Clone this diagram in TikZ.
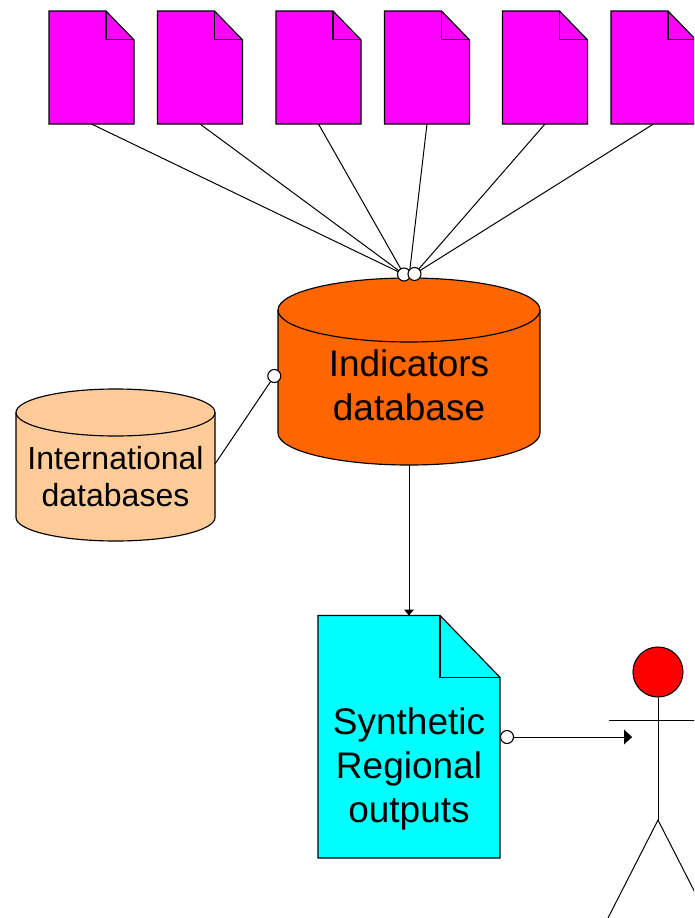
\documentclass[tikz,border=0pt]{standalone}
\usepackage{fontspec}
\setmainfont{Liberation Sans}
\newcommand{\docshape}[7]{% name, x1, y1, x2, y2, fold x, fold y
  \draw[docline,fill=#7] (#2,#3) -- (#4-#6,#3) -- (#4,#3+#6+#6*0.03) -- (#4,#5) -- (#2,#5) -- cycle;
  \draw[docline] (#4-#6,#3) -- (#4-#6,#3+#6+#6*0.03) -- (#4,#3+#6+#6*0.03);
  \node[anchor=north west,minimum width=#4pt-#2pt,minimum height=#5pt-#3pt,inner sep=0pt,outer sep=0pt] (#1) at (#2,#3) {};
}
\newcommand{\cyl}[7]{% name, x1, ytop, x2, ybottom, ry, colour
  \draw[docline,fill=#7] (#2,#3+#6) -- (#2,#5-#6) arc[start angle=180,end angle=360,x radius=(#4-#2)/2,y radius=-#6] -- (#4,#3+#6) arc[start angle=0,end angle=180,x radius=(#4-#2)/2,y radius=-#6] -- cycle;
  \draw[docline] (#2,#3+#6) arc[start angle=180,end angle=360,x radius=(#4-#2)/2,y radius=-#6];
  \node[anchor=north west,minimum width=#4pt-#2pt,minimum height=#5pt-#3pt,inner sep=0pt,outer sep=0pt] (#1) at (#2,#3) {};
}
\definecolor{docmagenta}{RGB}{255,0,255}
\definecolor{dborange}{RGB}{255,102,0}
\definecolor{dbpeach}{RGB}{255,204,153}
\definecolor{doccyan}{RGB}{0,255,255}
\tikzset{
  docline/.style={draw=black,line width=1.15pt,line join=miter},
  conn/.style={draw=black,line width=1pt},
  port/.style={circle,draw=black,fill=white,line width=1.1pt,minimum size=13pt,inner sep=0pt},
  bigtext/.style={font=\fontsize{37}{44}\selectfont,align=center},
  midtext/.style={font=\fontsize{32}{37}\selectfont,align=center}
}
\begin{document}
\begin{tikzpicture}[x=1pt,y=-1pt]
\useasboundingbox (0,0) rectangle (694,918);
\clip (0,0) rectangle (694,918);
% document icons
\docshape{d1}{49}{11}{134}{124}{28}{docmagenta}
\docshape{d2}{157.5}{11}{242.5}{124}{28}{docmagenta}
\docshape{d3}{276}{11}{361}{124}{28}{docmagenta}
\docshape{d4}{384.5}{11}{469.5}{124}{28}{docmagenta}
\docshape{d5}{502.5}{11}{587.5}{124}{28}{docmagenta}
\docshape{d6}{611}{11}{696}{124}{28}{docmagenta}
% databases
\cyl{main}{278}{278}{540}{465}{32}{dborange}
\cyl{intl}{16}{389}{215}{541}{23.5}{dbpeach}
\node[bigtext] (maintext) at (409,385.5) {Indicators\\database};
\node[midtext] (intltext) at (115.5,476.5) {International\\databases};
% output document
\docshape{out}{318}{615.5}{500}{858}{60}{doccyan}
\node[bigtext] (outtext) at (409,769) {Synthetic\\Regional\\outputs};
% ports and free ends
\coordinate (hub) at (409,277);
\coordinate (intlport) at (215,464);
\coordinate (actorend) at (632,737);
\node[port] (pc) at (274.3,376) {};
\node[port] (pd) at (507,737) {};
% connectors
\draw[conn] (d1.south) -- (404,274.5) coordinate (pa);
\draw[conn] (d2.south) -- (pa);
\draw[conn] (d3.south) -- (pa);
\draw[conn] (d4.south) -- (hub);
\draw[conn] (d5.south) -- (414.5,274) coordinate (pb);
\draw[conn] (d6.south) -- (pb);
\draw[conn] (intlport) -- (pc);
\draw[conn] (main.south) -- (out.north);
\fill (out.north) ++(-5,-6) -- ++(10,0) -- ++(-5,6) -- cycle;
\draw[conn] (pd) -- (actorend);
\fill (actorend) ++(-8,-7.5) -- ++(8,7.5) -- ++(-8,7.5) -- cycle;
\node[port] (portA) at (pa) {};
\node[port] (portB) at (pb) {};
% actor
\node[circle,draw=black,fill=red,line width=1.1pt,minimum size=50pt,inner sep=0pt] (head) at (658,672) {};
\coordinate (hip) at (658,820);
\coordinate (armL) at (608.5,720.5);
\coordinate (armR) at (710,720.5);
\coordinate (legL) at (608,918);
\coordinate (legR) at (708,918);
\draw[conn] (head.south) -- (hip);
\draw[conn] (armL) -- (armR);
\draw[conn] (legL) -- (hip) -- (legR);
\end{tikzpicture}
\end{document}
